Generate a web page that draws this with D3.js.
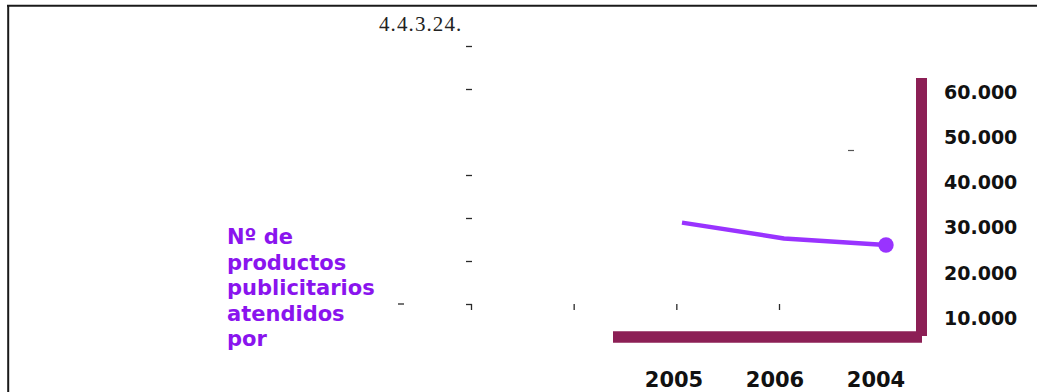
<!DOCTYPE html>
<html>
<head>
<meta charset="utf-8">
<script src="https://cdn.jsdelivr.net/npm/d3@7"></script>
<style>
  html, body { margin: 0; padding: 0; background: #fff; }
  svg { display: block; }
</style>
</head>
<body>
<svg id="chart" width="1037" height="392"></svg>
<script>
// Series: products attended per year
const years = ["2005", "2006", "2004"];
const values = [31100, 27600, 26150];

// Value-axis tick labels
const yTicks = [10000, 20000, 30000, 40000, 50000, 60000];

// Title and series label
const title = "4.4.3.24.";
const seriesLabel = ["Nº de", "productos", "publicitarios", "atendidos", "por"];

// Minor tick marks of the empty inner grid
const innerYTicks = [0, 1, 2, 3, 5, 6];
const innerXTicks = [0, 1, 2, 3];

const W = 1037, H = 392;
const maroon = "#8c1f55";
const purple = "#9933ff";
const purpleText = "#8a14ee";

const svg = d3.select("#chart");

// Outer frame: top and left rules
svg.append("line").attr("x1", 7).attr("x2", W).attr("y1", 5.8).attr("y2", 5.8)
  .attr("stroke", "#1a1a1a").attr("stroke-width", 2);
svg.append("line").attr("x1", 8.2).attr("x2", 8.2).attr("y1", 5).attr("y2", H)
  .attr("stroke", "#1a1a1a").attr("stroke-width", 2);

// Title
svg.append("text").attr("x", 379).attr("y", 31)
  .attr("font-family", "'Liberation Serif', serif").attr("font-size", 21)
  .attr("letter-spacing", 1.1).attr("fill", "#222").text(title);

// Scales
const y = d3.scaleLinear().domain([10000, 60000]).range([318, 92]);
const xLine = d3.scalePoint().domain(years).range([682, 886]);
const xLabel = d3.scalePoint().domain(years).range([674, 876]);

// Inner faint tick marks
const gy = d3.scaleLinear().domain([0, 6]).range([304, 46]);
const gx = d3.scaleLinear().domain([0, 3]).range([471, 779]);
const innerY = svg.append("g").attr("transform", "translate(472,0)")
  .call(d3.axisLeft(gy).tickValues(innerYTicks).tickSize(6).tickFormat(""));
const innerX = svg.append("g").attr("transform", `translate(0,${gy(0)})`)
  .call(d3.axisBottom(gx).tickValues(innerXTicks).tickSize(6).tickFormat(""));
[innerY, innerX].forEach(g => {
  g.select(".domain").remove();
  g.selectAll(".tick line").attr("stroke", "#2a2a2a").attr("stroke-width", 1.3);
});
// stray dashes
svg.append("line").attr("x1", 398).attr("x2", 404).attr("y1", gy(0)).attr("y2", gy(0))
  .attr("stroke", "#2a2a2a").attr("stroke-width", 1.3);
svg.append("line").attr("x1", 848).attr("x2", 854).attr("y1", 150.5).attr("y2", 150.5)
  .attr("stroke", "#555").attr("stroke-width", 1.2);

// Thick axis rules
svg.append("line").attr("x1", 613).attr("x2", 922).attr("y1", 337).attr("y2", 337)
  .attr("stroke", maroon).attr("stroke-width", 11.5);
svg.append("line").attr("x1", 921.5).attr("x2", 921.5).attr("y1", 78).attr("y2", 336)
  .attr("stroke", maroon).attr("stroke-width", 11);

// Value-axis labels
svg.append("g").selectAll("text").data(yTicks).join("text")
  .attr("x", 944).attr("y", d => y(d)).attr("dy", "0.36em")
  .attr("font-family", "'DejaVu Sans', Verdana, sans-serif").attr("font-weight", "bold")
  .attr("font-size", 19).attr("fill", "#111")
  .text(d => d3.format(",")(d).replace(/,/g, "."));

// Year labels
svg.append("g").selectAll("text").data(years).join("text")
  .attr("x", d => xLabel(d)).attr("y", 387).attr("text-anchor", "middle")
  .attr("font-family", "'DejaVu Sans', Verdana, sans-serif").attr("font-weight", "bold")
  .attr("font-size", 21).attr("fill", "#111").text(d => d);

// Series line
const pts = years.map((yr, i) => [xLine(yr), y(values[i])]);
svg.append("path").attr("d", d3.line()(pts))
  .attr("fill", "none").attr("stroke", purple).attr("stroke-width", 4.5)
  .attr("stroke-linejoin", "round");
const last = pts[pts.length - 1];
svg.append("circle").attr("cx", last[0]).attr("cy", last[1]).attr("r", 7.7).attr("fill", purple);

// Series label
svg.append("text").attr("x", 227).attr("y", 244)
  .attr("font-family", "'DejaVu Sans', Verdana, sans-serif").attr("font-weight", "bold")
  .attr("font-size", 21).attr("fill", purpleText)
  .selectAll("tspan").data(seriesLabel).join("tspan")
  .attr("x", 227).attr("dy", (d, i) => i === 0 ? 0 : 25.6).text(d => d);
</script>
</body>
</html>
